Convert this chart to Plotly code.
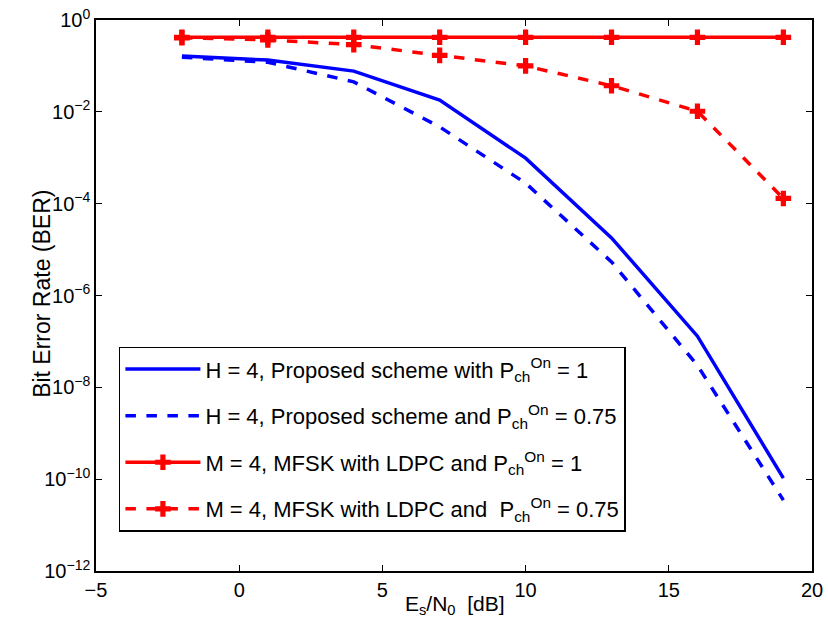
import plotly.graph_objects as go

snr_db = [-2, 1, 4, 7, 10, 13, 16, 19]
ber_proposed_p1 = [0.165, 0.134, 0.077, 0.018, 9.8e-4, 1.8e-5, 1.3e-7, 1.05e-10]
ber_proposed_p075 = [0.155, 0.12, 0.045, 4.7e-3, 2.8e-4, 5.4e-6, 3.0e-8, 3.5e-11]
ber_mfsk_p1 = [0.42, 0.42, 0.42, 0.42, 0.42, 0.42, 0.42, 0.42]
ber_mfsk_p075 = [0.41, 0.37, 0.29, 0.17, 0.1, 0.037, 0.0103, 1.3e-4]

legend_names = [
    "H = 4, Proposed scheme with P<sub>ch</sub><sup>On</sup> = 1",
    "H = 4, Proposed scheme and P<sub>ch</sub><sup>On</sup> = 0.75",
    "M = 4, MFSK with LDPC and P<sub>ch</sub><sup>On</sup> = 1",
    "M = 4, MFSK with LDPC and  P<sub>ch</sub><sup>On</sup> = 0.75",
]
x_title = "E<sub>s</sub>/N<sub>0</sub>  [dB]"
y_title = "Bit Error Rate (BER)"

x_tickvals = [-5, 0, 5, 10, 15, 20]
x_ticktext = ["\u22125", "0", "5", "10", "15", "20"]
y_exps = [0, -2, -4, -6, -8, -10, -12]
y_tickvals = [10.0 ** e for e in y_exps]
y_ticktext = ["10<sup>%s</sup>" % (str(e).replace("-", "\u2212")) for e in y_exps]

BLUE = "#0000ff"
RED = "#ff0000"
LW = 3.5

fig = go.Figure()
fig.add_trace(go.Scatter(x=snr_db, y=ber_proposed_p1, mode="lines", name=legend_names[0],
                         legendgroup="a", line=dict(color=BLUE, width=LW)))
fig.add_trace(go.Scatter(x=snr_db, y=ber_proposed_p075, mode="lines", name=legend_names[1],
                         legendgroup="b", line=dict(color=BLUE, width=LW, dash="dash")))
fig.add_trace(go.Scatter(x=snr_db, y=ber_mfsk_p1, mode="lines+markers", name=legend_names[2],
                         legendgroup="c", line=dict(color=RED, width=LW),
                         marker=dict(symbol="cross", size=13, color=RED)))
fig.add_trace(go.Scatter(x=snr_db, y=ber_mfsk_p075, mode="lines+markers", name=legend_names[3],
                         legendgroup="d", line=dict(color=RED, width=LW, dash="dash"),
                         marker=dict(symbol="cross", size=13, color=RED)))

axis_common = dict(showline=True, linecolor="black", linewidth=1.5, mirror="ticks",
                   ticks="inside", ticklen=6, tickcolor="black", showgrid=False,
                   zeroline=False, automargin=False, tickfont=dict(size=20, color="black"))

fig.update_layout(
    width=828, height=632,
    margin=dict(l=96, r=16, t=20, b=61),
    paper_bgcolor="white", plot_bgcolor="white",
    font=dict(family="Liberation Sans, Arial, sans-serif", color="black", size=20),
    xaxis=dict(range=[-5, 20], tickvals=x_tickvals, ticktext=x_ticktext, **axis_common),
    yaxis=dict(type="log", range=[-12, 0], tickvals=y_tickvals, ticktext=y_ticktext,
               **axis_common),
    legend=dict(x=0.032, y=0.407, xanchor="left", yanchor="top",
                bordercolor="black", borderwidth=1.5, bgcolor="white",
                font=dict(size=22), tracegroupgap=15, itemwidth=75),
    showlegend=True,
    annotations=[
        dict(text=x_title, xref="paper", yref="paper", x=0.502, y=-0.061,
             xanchor="center", yanchor="middle", showarrow=False, font=dict(size=21)),
        dict(text=y_title, xref="paper", yref="paper", x=-0.0754, y=0.503,
             xanchor="center", yanchor="middle", showarrow=False, textangle=-90,
             font=dict(size=23)),
    ],
)

fig.write_html(
    "out.html",
    config={"displayModeBar": False},
    post_script="document.body.style.margin='0';document.body.style.overflow='hidden';",
)
